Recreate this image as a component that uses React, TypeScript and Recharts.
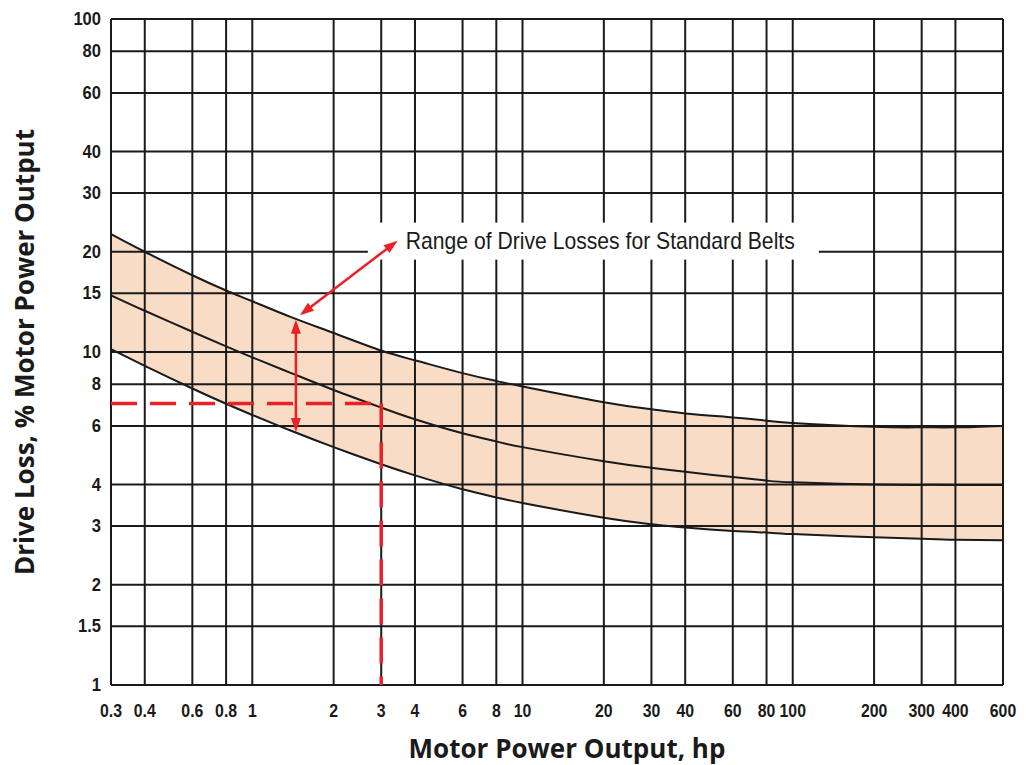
import { ComposedChart, Area, Line, XAxis, YAxis, CartesianGrid, ReferenceLine, ReferenceDot, Label } from 'recharts'

// motor power, hp
const hp = [0.3, 0.4, 0.6, 0.8, 1, 1.4, 2, 3, 4, 6, 8, 10, 20, 30, 40, 60, 80, 100, 200, 300, 400, 600]
// drive loss, % of motor output
const upperLoss = [22.6, 20.0, 17.0, 15.3, 14.2, 12.7, 11.4, 10.1, 9.44, 8.64, 8.18, 7.88, 7.07, 6.73, 6.54, 6.36, 6.22, 6.12, 5.96, 5.94, 5.94, 6.0]
const middleLoss = [14.8, 13.3, 11.5, 10.4, 9.64, 8.63, 7.69, 6.81, 6.28, 5.7, 5.39, 5.18, 4.7, 4.49, 4.37, 4.21, 4.11, 4.06, 4.0, 3.99, 3.99, 3.99]
const lowerLoss = [10.2, 9.09, 7.77, 6.99, 6.47, 5.79, 5.18, 4.6, 4.26, 3.87, 3.66, 3.52, 3.18, 3.04, 2.97, 2.9, 2.87, 2.84, 2.78, 2.75, 2.73, 2.72]

const xTicks = [0.3, 0.4, 0.6, 0.8, 1, 2, 3, 4, 6, 8, 10, 20, 30, 40, 60, 80, 100, 200, 300, 400, 600]
const yTicks = [1, 1.5, 2, 3, 4, 6, 8, 10, 15, 20, 30, 40, 60, 80, 100]

// worked example: 3 hp -> 7 %
const exampleHp = 3
const exampleLoss = 7

// annotation arrows [hp, loss]
const rangeArrow = [[1.45, 5.75], [1.45, 12.5]]
const calloutArrow = [[1.5, 12.9], [3.45, 21.6]]
const calloutAt = [3.7, 21.6]
const calloutText = 'Range of Drive Losses for Standard Belts'

const data = hp.map((h, i) => ({
  hp: h,
  upper: upperLoss[i],
  middle: middleLoss[i],
  lower: lowerLoss[i],
  band: [lowerLoss[i], upperLoss[i]]
}))

const RED = '#ea2127'
const INK = '#1a1a1a'
const tickFont = '"Liberation Sans", Arial, sans-serif'
const titleStyle = { fontFamily: '"Open Sans", sans-serif', fontWeight: 700, fontSize: 26, fill: INK }

const XTick = ({ x, y, payload }: any) => (
  <text transform={`translate(${x},${y}) scale(0.88,1)`} dy={32} textAnchor="middle" fontFamily={tickFont} fontWeight={700} fontSize={18} fill={INK}>
    {payload.value}
  </text>
)

const YTick = ({ x, y, payload }: any) => (
  <text transform={`translate(${x},${y}) scale(0.92,1)`} dy={6} textAnchor="end" fontFamily={tickFont} fontWeight={700} fontSize={18} fill={INK}>
    {payload.value}
  </text>
)

const DoubleArrow = (p: any) => {
  const { x1, y1, x2, y2 } = p
  const a = Math.atan2(y2 - y1, x2 - x1)
  const len = 14
  const half = 5
  const head = (x: number, y: number, ang: number) => {
    const bx = x - len * Math.cos(ang)
    const by = y - len * Math.sin(ang)
    return `${x},${y} ${bx - half * Math.sin(ang)},${by + half * Math.cos(ang)} ${bx + half * Math.sin(ang)},${by - half * Math.cos(ang)}`
  }
  const c = Math.cos(a) * (len - 2)
  const s = Math.sin(a) * (len - 2)
  return (
    <g>
      <line x1={x1 + c} y1={y1 + s} x2={x2 - c} y2={y2 - s} stroke={RED} strokeWidth={2.5} />
      <polygon points={head(x2, y2, a)} fill={RED} />
      <polygon points={head(x1, y1, a + Math.PI)} fill={RED} />
    </g>
  )
}

const Callout = ({ cx, cy }: any) => (
  <g>
    <rect x={cx - 38} y={cy - 18} width={451} height={37} fill="#fff" />
    <text transform={`translate(${cx},${cy + 8}) scale(0.92,1)`} fontFamily={tickFont} fontSize={23} fill={INK}>
      {calloutText}
    </text>
  </g>
)

export default function App() {
  return (
    <>
      <style>{'body{margin:0}'}</style>
      <ComposedChart width={1029} height={765} data={data} margin={{ top: 19, right: 26, left: 0, bottom: 0 }}>
        <XAxis
          dataKey="hp"
          type="number"
          scale="log"
          domain={[0.3, 600]}
          ticks={xTicks}
          interval={0}
          allowDataOverflow
          height={80}
          axisLine={false}
          tickLine={false}
          tickSize={0}
          tickMargin={0}
          tick={<XTick />}
        >
          <Label value="Motor Power Output, hp" position="insideBottom" offset={7} dx={10} style={titleStyle} />
        </XAxis>
        <YAxis
          type="number"
          scale="log"
          domain={[1, 100]}
          ticks={yTicks}
          interval={0}
          allowDataOverflow
          width={111}
          axisLine={false}
          tickLine={false}
          tickSize={0}
          tickMargin={10}
          tick={<YTick />}
        >
          <Label
            value="Drive Loss, % Motor Power Output"
            angle={-90}
            position="insideLeft"
            offset={25}
            style={{ ...titleStyle, textAnchor: 'middle' }}
          />
        </YAxis>
        <Area dataKey="band" type="natural" stroke="none" fill="#f8dcc5" fillOpacity={1} isAnimationActive={false} />
        <CartesianGrid stroke={INK} strokeWidth={2} zIndex={150} />
        <Line dataKey="upper" type="natural" stroke={INK} strokeWidth={2} dot={false} isAnimationActive={false} />
        <Line dataKey="middle" type="natural" stroke={INK} strokeWidth={2} dot={false} isAnimationActive={false} />
        <Line dataKey="lower" type="natural" stroke={INK} strokeWidth={2} dot={false} isAnimationActive={false} />
        <ReferenceLine
          segment={[{ x: 0.3, y: exampleLoss }, { x: exampleHp, y: exampleLoss }]}
          stroke={RED}
          strokeWidth={3.5}
          strokeDasharray="26 13"
        />
        <ReferenceLine
          segment={[{ x: exampleHp, y: exampleLoss }, { x: exampleHp, y: 1 }]}
          stroke={RED}
          strokeWidth={3.5}
          strokeDasharray="26 13"
        />
        <ReferenceDot x={calloutAt[0]} y={calloutAt[1]} shape={<Callout />} zIndex={1000} />
        <ReferenceLine
          segment={[{ x: rangeArrow[0][0], y: rangeArrow[0][1] }, { x: rangeArrow[1][0], y: rangeArrow[1][1] }]}
          shape={<DoubleArrow />}
          zIndex={1100}
        />
        <ReferenceLine
          segment={[{ x: calloutArrow[0][0], y: calloutArrow[0][1] }, { x: calloutArrow[1][0], y: calloutArrow[1][1] }]}
          shape={<DoubleArrow />}
          zIndex={1100}
        />
      </ComposedChart>
    </>
  )
}
